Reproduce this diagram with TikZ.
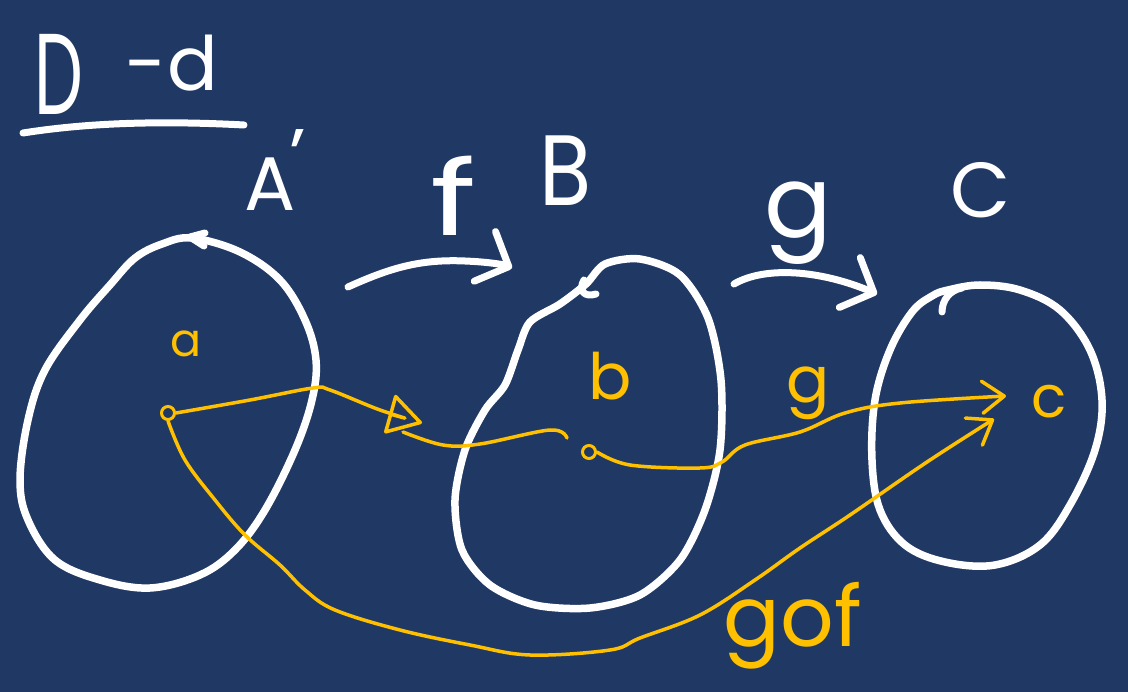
\documentclass[tikz,border=0pt]{standalone}
\usepackage{fontspec}
\setmainfont{Poppins}
\usetikzlibrary{arrows.meta}
\definecolor{bg}{RGB}{32,56,100}
\definecolor{ink}{RGB}{255,192,0}
\begin{document}
\begin{tikzpicture}[x=1pt,y=-1pt,
  blob/.style={draw=white,line width=7.5pt,line cap=round,line join=round},
  wline/.style={draw=white,line width=7pt,line cap=round,line join=round},
  yline/.style={draw=ink,line width=3.5pt,line cap=round,line join=round},
  wtxt/.style={text=white,inner sep=0pt},
  ytxt/.style={text=ink,inner sep=0pt},
  wbarb/.style={-{Straight Barb[length=26pt,width=54pt,round]}},
  ybarb/.style={-{Straight Barb[length=22pt,width=32pt,round]}},
  ytri/.style={-{Triangle[open,length=36pt,width=42pt,round]}},
  ptmark/.style={circle,draw=ink,line width=3pt,minimum size=13pt,inner sep=0pt},
]
\fill[bg] (0,0) rectangle (1128,692);
\useasboundingbox (0,0) rectangle (1128,692);

% title
\node[wtxt,font=\fontsize{115}{115}\selectfont,xscale=0.6,anchor=south] (D) at (59,115) {D};
\node[wtxt,font=\fontsize{75}{75}\selectfont,anchor=south] (dd) at (172,91) {-d};
\draw[wline] (23,133) .. controls (80,124) and (150,120) .. (244,125);

% set labels
\node[wtxt,font=\fontsize{76}{76}\selectfont,anchor=base west] (A) at (244,211) {A\kern-6pt\raisebox{28pt}{'}};
\node[wtxt,font=\fontsize{104}{104}\selectfont,xscale=1.35,anchor=south] (f) at (454,236) {f};
\node[wtxt,font=\fontsize{100}{100}\selectfont,xscale=0.85,anchor=south] (B) at (566,206) {B};
\node[wtxt,font=\fontsize{100}{100}\selectfont,anchor=base] (g) at (798,238) {g};
\node[wtxt,font=\fontsize{78}{78}\selectfont,anchor=south] (C) at (981,218) {C};

% blobs
\draw[blob] plot[smooth cycle,tension=0.6] coordinates {
  (192,238) (240,252) (280,280) (305,320) (316,360) (312,400) (295,450)
  (265,510) (235,550) (200,575) (150,588) (100,580) (55,560) (28,520)
  (20,480) (28,420) (45,370) (80,320) (110,285) (135,258) (162,244)};
\draw[wline] (205,233) -- (190,237) -- (204,246);
\draw[blob] plot[smooth cycle,tension=0.5] coordinates {
  (586,284) (605,264) (640,259) (680,275) (708,318) (721,380)
  (720,450) (705,510) (680,560) (640,595) (590,608) (535,605) (490,585)
  (462,550) (455,500) (465,450) (485,410) (505,385) (518,350) (530,322)
  (560,304)};
\draw[wline] (596,294) .. controls (584,298) and (578,290) .. (584,280);
\draw[blob] plot[smooth cycle,tension=0.6] coordinates {
  (948,290) (980,285) (1020,290) (1060,310) (1090,350) (1102,400)
  (1095,450) (1070,505) (1040,545) (995,565) (945,562) (905,545)
  (880,510) (872,460) (875,400) (890,350) (912,312) (932,296)};
\draw[wline] (942,312) .. controls (942,300) and (950,290) .. (962,288);

% maps between sets
\coordinate (f0) at (348,287);
\coordinate (f1) at (512,268);
\draw[wline,wbarb] (f0) .. controls (390,268) and (420,259) .. (465,261)
  .. controls (490,262) and (505,265) .. (f1);
\coordinate (g0) at (734,284);
\coordinate (g1) at (877,294);
\draw[wline,wbarb] (g0) .. controls (765,266) and (820,270) .. (g1);

% elements
\node[ptmark] (pa) at (168,413) {};
\node[ptmark] (pb) at (589,452) {};
\node[ytxt,font=\fontsize{46}{46}\selectfont,anchor=base] (la) at (186,357) {a};
\node[ytxt,font=\fontsize{64}{64}\selectfont,anchor=base] (lb) at (610,400) {b};
\node[ytxt,font=\fontsize{58}{58}\selectfont,anchor=base] (lc) at (1049,418) {c};
\node[ytxt,font=\fontsize{64}{64}\selectfont,anchor=base] (lg) at (808,403) {g};
\node[ytxt,font=\fontsize{84}{84}\selectfont,anchor=base] (lgof) at (793,646) {gof};

% element map a -> b (f)
\coordinate (m1) at (422,423);
\coordinate (m2) at (403,432);
\coordinate (bend) at (567,438);
\draw[yline,ytri] plot[smooth,tension=0.6] coordinates {
  (pa.east) (250,400) (313,388) (330,390) (380,410) (m1)};
\draw[yline] plot[smooth,tension=0.6] coordinates {
  (m2) (443,445) (480,444) (550,430) (bend)};

% element map b -> c (g)
\coordinate (cend) at (1006,396);
\draw[yline,ybarb] plot[smooth,tension=0.6] coordinates {
  (pb.east) (630,465) (700,468) (722,462) (745,445) (800,432) (845,413)
  (900,403) (cend)};

% element map a -> c (gof)
\coordinate (cend2) at (994,419);
\draw[yline,ybarb] plot[smooth,tension=0.6] coordinates {
  (pa.south) (185,460) (215,500) (245,535) (280,565) (305,590) (335,610)
  (400,630) (470,645) (530,655) (610,650) (640,638) (700,615) (755,580)
  (800,548) (850,515) (927,462) (cend2)};
\end{tikzpicture}
\end{document}
